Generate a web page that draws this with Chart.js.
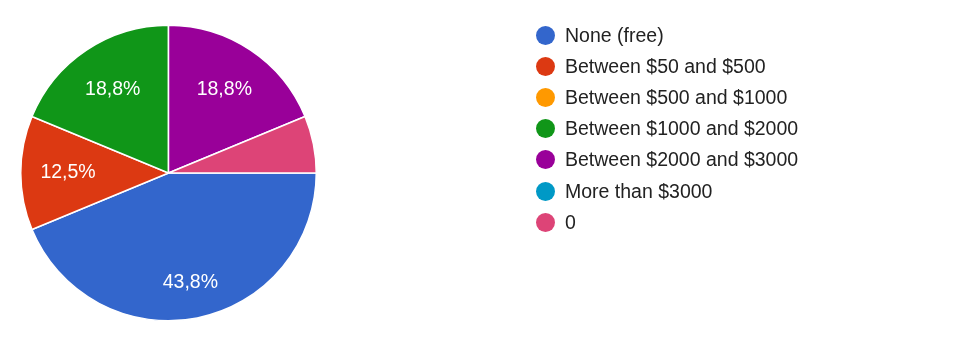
<!DOCTYPE html>
<html>
<head>
<meta charset="utf-8">
<script src="https://cdn.jsdelivr.net/npm/chart.js@4"></script>
<style>
  html, body { margin: 0; padding: 0; background: #fff; }
  #wrap { position: relative; width: 957px; height: 341px; }
  #legend { position: absolute; left: 536px; top: 20px; font-family: Arial, "Liberation Sans", sans-serif; font-size: 19.5px; color: #222; }
  .row { height: 31.1px; display: flex; align-items: center; white-space: nowrap; }
  .dot { width: 19px; height: 19px; border-radius: 50%; margin-right: 10px; flex: none; }
</style>
</head>
<body>
<div id="wrap">
  <canvas id="PieChart" width="957" height="341"></canvas>
  <div id="legend"></div>
</div>
<script>
var labels = ['None (free)', 'Between $50 and $500', 'Between $500 and $1000', 'Between $1000 and $2000', 'Between $2000 and $3000', 'More than $3000', '0'];
var counts = [7, 2, 0, 3, 3, 0, 1];
var colors = ['#3366cc', '#dc3912', '#ff9900', '#109618', '#990099', '#0099c6', '#dd4477'];

// percentage labels inside the slices
var sliceLabels = {
    id: 'sliceLabels',
    afterDatasetsDraw: function (chart) {
        var ctx = chart.ctx;
        var values = chart.data.datasets[0].data;
        var total = values.reduce(function (a, b) { return a + b; }, 0);
        ctx.save();
        ctx.fillStyle = '#fff';
        ctx.font = '19.5px Arial, "Liberation Sans", sans-serif';
        ctx.textAlign = 'center';
        ctx.textBaseline = 'middle';
        chart.getDatasetMeta(0).data.forEach(function (arc, i) {
            var share = values[i] / total;
            if (share < 0.1) return;
            var p = arc.getProps(['x', 'y', 'startAngle', 'endAngle', 'outerRadius'], true);
            var mid = (p.startAngle + p.endAngle) / 2;
            var d = p.outerRadius * (0.68 + 0.08 * Math.max(0, Math.sin(mid)));
            var text = (share * 100).toFixed(1).replace('.', ',') + '%';
            ctx.fillText(text, p.x + Math.cos(mid) * d, p.y + Math.sin(mid) * d);
        });
        ctx.restore();
    }
};

var config = {
    type: 'pie',
    data: {
        labels: labels,
        datasets: [{
            data: counts,
            backgroundColor: colors,
            borderColor: '#fff',
            borderWidth: 1.5,
        }]
    },
    options: {
        responsive: false,
        animation: false,
        rotation: 90,
        layout: { padding: { left: 20, right: 640, top: 24, bottom: 19 } },
        plugins: {
            legend: { display: false },
            tooltip: { enabled: false },
        },
    },
    plugins: [sliceLabels],
};

var pieChart = new Chart(document.getElementById('PieChart'), config);

var legend = document.getElementById('legend');
labels.forEach(function (name, i) {
    var row = document.createElement('div');
    row.className = 'row';
    var dot = document.createElement('span');
    dot.className = 'dot';
    dot.style.background = colors[i];
    var txt = document.createElement('span');
    txt.textContent = name;
    row.appendChild(dot);
    row.appendChild(txt);
    legend.appendChild(row);
});
</script>
</body>
</html>
